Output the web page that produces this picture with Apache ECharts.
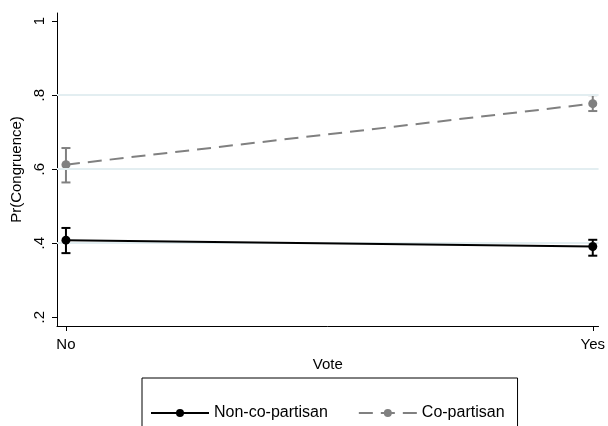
<!DOCTYPE html>
<html>
<head>
<meta charset="utf-8">
<script src="https://cdn.jsdelivr.net/npm/echarts@6/dist/echarts.min.js"></script>
<style>
  html, body { margin: 0; padding: 0; background: #ffffff; }
  #chart { width: 608px; height: 426px; }
</style>
</head>
<body>
<div id="chart"></div>
<script>
// Predicted probability of congruence by vote, with 95% confidence intervals
const votes = ['No', 'Yes'];
const nonCoPartisan = [0.408, 0.391];
const nonCoLow = [0.373, 0.366];
const nonCoHigh = [0.441, 0.409];
const coPartisan = [0.612, 0.777];
const coLow = [0.564, 0.757];
const coHigh = [0.657, 0.800];
const yTicks = [0.2, 0.4, 0.6, 0.8, 1];
const gridValues = [0.4, 0.6, 0.8];

const FONT = 'Liberation Sans, Arial, sans-serif';
const BLACK = '#000000';
const GRAY = '#808080';

function points(values) {
  return values.map((v, i) => [i, v]);
}
function intervals(low, high) {
  return low.map((l, i) => [i, l, high[i]]);
}
function fmtTick(v) {
  if (Math.abs(v - 1) < 1e-9) return '1';
  return String(Math.round(v * 10) / 10).replace(/^0/, '');
}

function errorBar(color) {
  return function (params, api) {
    const x = api.value(0);
    const lo = api.coord([x, api.value(1)]);
    const hi = api.coord([x, api.value(2)]);
    const cap = 4.5;
    const style = { stroke: color, lineWidth: 2 };
    return {
      type: 'group',
      children: [
        { type: 'line', shape: { x1: lo[0], y1: lo[1], x2: hi[0], y2: hi[1] }, style },
        { type: 'line', shape: { x1: lo[0] - cap, y1: lo[1], x2: lo[0] + cap, y2: lo[1] }, style },
        { type: 'line', shape: { x1: hi[0] - cap, y1: hi[1], x2: hi[0] + cap, y2: hi[1] }, style }
      ]
    };
  };
}

const chart = echarts.init(document.getElementById('chart'), null, { renderer: 'canvas' });
chart.setOption({
  backgroundColor: '#ffffff',
  animation: false,
  textStyle: { fontFamily: FONT },
  grid: { left: 57, right: 8, top: 13, bottom: 100 },
  xAxis: {
    type: 'value',
    min: -0.017,
    max: 1.011,
    name: 'Vote',
    nameLocation: 'middle',
    nameGap: 24,
    nameTextStyle: { color: '#000', fontSize: 15, fontFamily: FONT },
    axisLine: { show: true, onZero: false, lineStyle: { color: BLACK, width: 1 } },
    axisTick: { show: true, length: 5, customValues: [0, 1], lineStyle: { color: BLACK } },
    axisLabel: {
      customValues: [0, 1],
      formatter: v => votes[Math.round(v)],
      color: '#000', fontSize: 15, fontFamily: FONT, margin: 11
    },
    splitLine: { show: false }
  },
  yAxis: {
    type: 'value',
    min: 0.176,
    max: 1.022,
    name: 'Pr(Congruence)',
    nameLocation: 'middle',
    nameGap: 30,
    nameTextStyle: { color: '#000', fontSize: 15, fontFamily: FONT },
    axisLine: { show: true, onZero: false, lineStyle: { color: BLACK, width: 1 } },
    axisTick: { show: true, length: 5, customValues: yTicks, lineStyle: { color: BLACK } },
    axisLabel: {
      customValues: yTicks,
      formatter: fmtTick,
      rotate: 90,
      color: '#000', fontSize: 15, fontFamily: FONT, margin: 10
    },
    splitLine: { show: false }
  },
  legend: {
    left: 142,
    top: 378,
    padding: [27, 13, 40, 8],
    borderColor: '#000',
    borderWidth: 1,
    itemWidth: 58,
    itemHeight: 10,
    itemGap: 30,
    textStyle: { color: '#000', fontSize: 16, fontFamily: FONT },
    data: ['Non-co-partisan', 'Co-partisan']
  },
  series: [
    {
      type: 'line',
      name: 'grid',
      data: [],
      z: 0,
      silent: true,
      markLine: {
        silent: true,
        symbol: 'none',
        label: { show: false },
        lineStyle: { color: '#e3eef1', width: 2, type: 'solid' },
        data: gridValues.map(v => ({ yAxis: v }))
      }
    },
    {
      type: 'custom',
      name: 'Co-partisan CI',
      renderItem: errorBar(GRAY),
      data: intervals(coLow, coHigh),
      z: 2
    },
    {
      type: 'line',
      name: 'Co-partisan',
      data: points(coPartisan),
      symbol: 'circle',
      symbolSize: 9,
      itemStyle: { color: GRAY },
      lineStyle: { color: GRAY, width: 2, type: [14, 8] },
      z: 3
    },
    {
      type: 'custom',
      name: 'Non-co-partisan CI',
      renderItem: errorBar(BLACK),
      data: intervals(nonCoLow, nonCoHigh),
      z: 4
    },
    {
      type: 'line',
      name: 'Non-co-partisan',
      data: points(nonCoPartisan),
      symbol: 'circle',
      symbolSize: 9,
      itemStyle: { color: BLACK },
      lineStyle: { color: BLACK, width: 2 },
      z: 5
    }
  ]
});
</script>
</body>
</html>
